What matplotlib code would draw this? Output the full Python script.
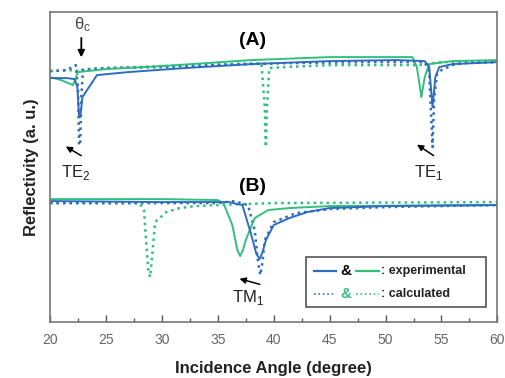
import matplotlib
matplotlib.use("Agg")
import matplotlib.pyplot as plt
from matplotlib.lines import Line2D
from matplotlib.patches import Rectangle

plt.rcParams["font.family"] = ["Liberation Sans", "DejaVu Sans"]

BLUE = "#2f6cc0"
GREEN = "#30bf7c"
DOTS = (0, (1.0, 1.6))

# ── Panel (A): upper traces (arbitrary reflectivity units) ───────────────────
a_exp_blue_x = [20.0, 21.5, 22.2, 22.45, 22.6, 22.7, 22.9, 24.2, 27.0, 32.0, 38.0,
                45.0, 51.0, 53.5, 53.9, 54.2, 54.45, 54.8, 56.0, 60.0]
a_exp_blue_y = [244, 244, 243, 235, 205, 205, 225, 247, 250, 254, 258,
                261, 262, 261, 255, 215, 245, 255, 258, 260]

a_exp_green_x = [20.0, 21.0, 22.05, 22.3, 22.5, 25.0, 30.0, 38.0, 45.0, 52.4,
                 52.8, 53.2, 53.5, 53.9, 56.0, 60.0]
a_exp_green_y = [245, 242, 237, 244, 250, 253, 256, 262, 265, 265,
                 255, 225, 245, 258, 261, 262]

a_calc_blue_x = [20.0, 21.5, 22.3, 22.5, 22.6, 22.7, 22.8, 22.95, 25.0, 30.0, 35.0,
                 41.4, 48.0, 53.5, 53.9, 54.2, 54.35, 54.6, 55.0, 56.0, 57.0, 60.0]
a_calc_blue_y = [251, 252, 257, 235, 177, 177, 225, 252, 254, 255, 257,
                 259, 260, 260, 250, 175, 225, 248, 252, 257, 259, 260]

a_calc_green_x = [20.0, 22.3, 22.6, 23.0, 30.0, 38.9, 39.2, 39.3, 39.4, 39.6, 41.0,
                  45.0, 53.0, 55.0, 60.0]
a_calc_green_y = [251, 252, 250, 253, 256, 259, 215, 175, 215, 254, 255,
                  257, 257, 260, 260]

# ── Panel (B): lower traces ─────────────────────────────────────────────────
b_exp_blue_x = [20.0, 30.0, 36.0, 37.2, 38.0, 38.45, 38.75, 39.0, 39.3, 40.0, 41.4,
                43.0, 45.0, 50.0, 60.0]
b_exp_blue_y = [121, 120, 120, 117, 87, 68, 63, 70, 82, 97, 104,
                110, 114, 116, 117]

b_exp_green_x = [20.0, 30.0, 35.0, 35.5, 36.3, 36.75, 37.0, 37.25, 37.5, 38.3, 39.5,
                 41.4, 45.0, 60.0]
b_exp_green_y = [123, 123, 122, 119, 97, 72, 66, 72, 82, 104, 112,
                 114, 116, 117]

b_calc_blue_x = [20.0, 35.0, 36.5, 37.7, 38.3, 38.6, 38.8, 39.0, 39.2, 40.0, 42.0,
                 45.0, 50.0, 60.0]
b_calc_blue_y = [119, 119, 121, 117, 92, 60, 47, 60, 82, 100, 109,
                 113, 115, 117]

b_calc_green_x = [20.0, 28.0, 28.4, 28.6, 28.8, 28.95, 29.1, 29.4, 30.4, 31.6, 33.0,
                  35.0, 40.0, 60.0]
b_calc_green_y = [119, 119, 112, 80, 50, 45, 62, 100, 110, 114, 116,
                  117, 119, 120]

xticks = [20, 25, 30, 35, 40, 45, 50, 55, 60]

fig = plt.figure(figsize=(5.05, 3.78), dpi=100)
ax = fig.add_axes([0.099, 0.148, 0.886, 0.82])

ax.plot(a_calc_green_x, a_calc_green_y, ls=DOTS, color=GREEN, lw=1.8)
ax.plot(a_calc_blue_x, a_calc_blue_y, ls=DOTS, color=BLUE, lw=1.8)
ax.plot(a_exp_green_x, a_exp_green_y, "-", color=GREEN, lw=1.4)
ax.plot(a_exp_blue_x, a_exp_blue_y, "-", color=BLUE, lw=1.4)

ax.plot(b_calc_green_x, b_calc_green_y, ls=DOTS, color=GREEN, lw=1.8)
ax.plot(b_calc_blue_x, b_calc_blue_y, ls=DOTS, color=BLUE, lw=1.8)
ax.plot(b_exp_green_x, b_exp_green_y, "-", color=GREEN, lw=1.4)
ax.plot(b_exp_blue_x, b_exp_blue_y, "-", color=BLUE, lw=1.4)

ax.set_xlim(20, 60)
ax.set_ylim(0, 310)
ax.set_xticks(xticks)
ax.set_xticks([22.5 + 5 * i for i in range(8)], minor=True)
ax.set_xticklabels([str(t) for t in xticks], fontsize=10, color="#666666")
ax.set_yticks([])
ax.tick_params(axis="x", which="major", direction="in", length=5, width=1,
               color="#555555", pad=8)
ax.tick_params(axis="x", which="minor", direction="in", length=3, width=1,
               color="#555555")
for sp in ax.spines.values():
    sp.set_color("#777777")
    sp.set_linewidth(1.2)

ax.set_xlabel("Incidence Angle (degree)", fontsize=12, fontweight="bold",
              labelpad=10, color="#222222")
ax.set_ylabel("Reflectivity (a. u.)", fontsize=12, fontweight="bold",
              labelpad=8, color="#222222")

# panel labels and mode annotations
ax.text(38.1, 282, "(A)", fontsize=14, fontweight="bold", ha="center", va="center")
ax.text(38.1, 136, "(B)", fontsize=14, fontweight="bold", ha="center", va="center")
ax.text(22.9, 297, r"$\mathregular{\theta_c}$", fontsize=12, ha="center",
        va="center", color="#444444")
ax.annotate("", xy=(22.8, 262), xytext=(22.8, 287),
            arrowprops=dict(arrowstyle="-|>", color="black", lw=1.3,
                            mutation_scale=10))
ax.text(21.0, 150, r"TE$_\mathregular{2}$", fontsize=12, ha="left", va="center",
        color="#222222")
ax.annotate("", xy=(21.2, 177), xytext=(23.0, 165),
            arrowprops=dict(arrowstyle="-|>", color="black", lw=1.1,
                            mutation_scale=9))
ax.text(52.5, 150, r"TE$_\mathregular{1}$", fontsize=12, ha="left", va="center",
        color="#222222")
ax.annotate("", xy=(52.6, 179), xytext=(54.5, 165),
            arrowprops=dict(arrowstyle="-|>", color="black", lw=1.1,
                            mutation_scale=9))
ax.text(36.3, 25, r"TM$_\mathregular{1}$", fontsize=12, ha="left", va="center",
        color="#222222")
ax.annotate("", xy=(36.7, 44), xytext=(39.0, 37),
            arrowprops=dict(arrowstyle="-|>", color="black", lw=1.1,
                            mutation_scale=9))

# hand-drawn legend box
tr = ax.transAxes
ax.add_patch(Rectangle((0.573, 0.048), 0.402, 0.163, transform=tr,
                       fc="white", ec="#555555", lw=1.2, zorder=5))
ax.add_line(Line2D([0.59, 0.64], [0.165, 0.165], transform=tr, color=BLUE,
                   lw=1.6, zorder=6))
ax.add_line(Line2D([0.685, 0.735], [0.165, 0.165], transform=tr, color=GREEN,
                   lw=1.6, zorder=6))
ax.add_line(Line2D([0.59, 0.64], [0.09, 0.09], transform=tr, color=BLUE,
                   lw=1.2, ls=":", zorder=6))
ax.add_line(Line2D([0.685, 0.735], [0.09, 0.09], transform=tr, color=GREEN,
                   lw=1.2, ls=":", zorder=6))
ax.text(0.662, 0.165, "&", transform=tr, fontsize=11, fontweight="bold",
        ha="center", va="center", zorder=6)
ax.text(0.662, 0.09, "&", transform=tr, fontsize=11, fontweight="bold",
        ha="center", va="center", color=GREEN, zorder=6)
ax.text(0.74, 0.165, ": experimental", transform=tr, fontsize=9,
        fontweight="bold", ha="left", va="center", zorder=6, color="#222222")
ax.text(0.74, 0.09, ": calculated", transform=tr, fontsize=9,
        fontweight="bold", ha="left", va="center", zorder=6, color="#222222")

fig.savefig("out.png", dpi=100)
